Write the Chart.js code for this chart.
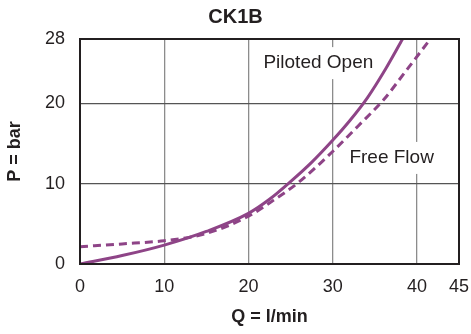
<!DOCTYPE html>
<html><head><meta charset="utf-8">
<script src="https://cdn.jsdelivr.net/npm/chart.js@4"></script>
<style>html,body{margin:0;padding:0;background:#fff}#wrap{width:471px;height:334px}</style>
</head><body><div id="wrap"><canvas id="c" width="471" height="334"></canvas></div>
<script>
// ---- data ----
const chartTitle = 'CK1B';
const xAxisTitle = 'Q = l/min';
const yAxisTitle = 'P = bar';
const seriesNames = ['Piloted Open', 'Free Flow'];
const pilotedQ = [0, 5, 10, 15, 20, 22.5, 25, 27.5, 30, 32, 34.1, 36.3, 38.3];
const pilotedP = [0, 1.05, 2.35, 4.05, 6.3, 8.05, 10.25, 12.65, 15.4, 17.8, 20.65, 24.3, 28];
const freeQ = [0, 5, 10, 15, 20, 23, 26, 30, 33, 36.1, 38.5, 41.6];
const freeP = [2.15, 2.5, 2.9, 3.8, 5.95, 7.95, 10.2, 14.0, 17.15, 20.5, 23.75, 28];
const xTicks = [0, 10, 20, 30, 40, 45];
const yTicks = [0, 10, 20, 28];

// ---- styles / layout (kept apart from data) ----
const purple = '#8e4487';
const ink = '#231f20';
const FONT = '"Liberation Sans", Arial, Helvetica, sans-serif';
const labelAnchors = [{x: 28.3, y: 25.0}, {x: 37.0, y: 13.2}];

const toPoints = (xs, ys) => xs.map((x, i) => ({x, y: ys[i]}));

const frameAndLabels = {
  id: 'frameAndLabels',
  beforeDatasetsDraw(chart) {
    const {ctx, scales: {x, y}} = chart;
    ctx.save();
    ctx.font = '19px ' + FONT;
    ctx.textAlign = 'center';
    ctx.textBaseline = 'middle';
    seriesNames.forEach((name, i) => {
      const px = x.getPixelForValue(labelAnchors[i].x);
      const py = y.getPixelForValue(labelAnchors[i].y);
      const w = ctx.measureText(name).width + 16;
      const h = 32;
      ctx.fillStyle = '#ffffff';
      ctx.fillRect(px - w / 2, py - h / 2, w, h);
      ctx.fillStyle = ink;
      ctx.fillText(name, px, py);
    });
    ctx.restore();
  },
  afterDraw(chart) {
    const {ctx, chartArea: a} = chart;
    ctx.save();
    ctx.strokeStyle = ink;
    ctx.lineWidth = 2;
    ctx.strokeRect(a.left, a.top, a.right - a.left, a.bottom - a.top);
    ctx.restore();
  }
};

new Chart(document.getElementById('c'), {
  type: 'line',
  data: {
    datasets: [
      {label: seriesNames[0], data: toPoints(pilotedQ, pilotedP), borderColor: purple,
       borderWidth: 3, pointRadius: 0, cubicInterpolationMode: 'monotone', fill: false},
      {label: seriesNames[1], data: toPoints(freeQ, freeP), borderColor: purple,
       borderWidth: 3, borderDash: [8, 5], pointRadius: 0, cubicInterpolationMode: 'monotone', fill: false}
    ]
  },
  options: {
    responsive: false,
    animation: false,
    layout: {padding: {left: 0, right: 0, top: 0, bottom: 0}},
    plugins: {
      legend: {display: false},
      tooltip: {enabled: false},
      title: {display: true, text: chartTitle, color: ink,
              font: {family: FONT, size: 20, weight: 'bold'},
              padding: {top: 5.5, bottom: 9.5}}
    },
    scales: {
      x: {
        type: 'linear', min: 0, max: 45,
        afterBuildTicks: s => { s.ticks = xTicks.map(v => ({value: v})); },
        afterFit: s => { s.height = 70; s.paddingRight = 12; s.paddingLeft = 0; },
        grid: {color: '#8c8c8c', lineWidth: 1.3, drawTicks: false},
        border: {display: false},
        ticks: {color: ink, padding: 12, maxRotation: 0, autoSkip: false,
                font: {family: FONT, size: 18}},
        title: {display: true, text: xAxisTitle, color: ink,
                font: {family: FONT, size: 18, weight: 'bold'},
                padding: {top: 0, bottom: 6}}
      },
      y: {
        type: 'linear', min: 0, max: 28,
        afterBuildTicks: s => { s.ticks = yTicks.map(v => ({value: v})); },
        afterFit: s => { s.width = 80; },
        grid: {color: '#555555', lineWidth: 1.3, drawTicks: false},
        border: {display: false},
        ticks: {color: ink, padding: 15, autoSkip: false,
                font: {family: FONT, size: 18}},
        title: {display: true, text: yAxisTitle, color: ink,
                font: {family: FONT, size: 18, weight: 'bold'},
                padding: {top: 4.7, bottom: 0}}
      }
    }
  },
  plugins: [frameAndLabels]
});
</script>
</body></html>
